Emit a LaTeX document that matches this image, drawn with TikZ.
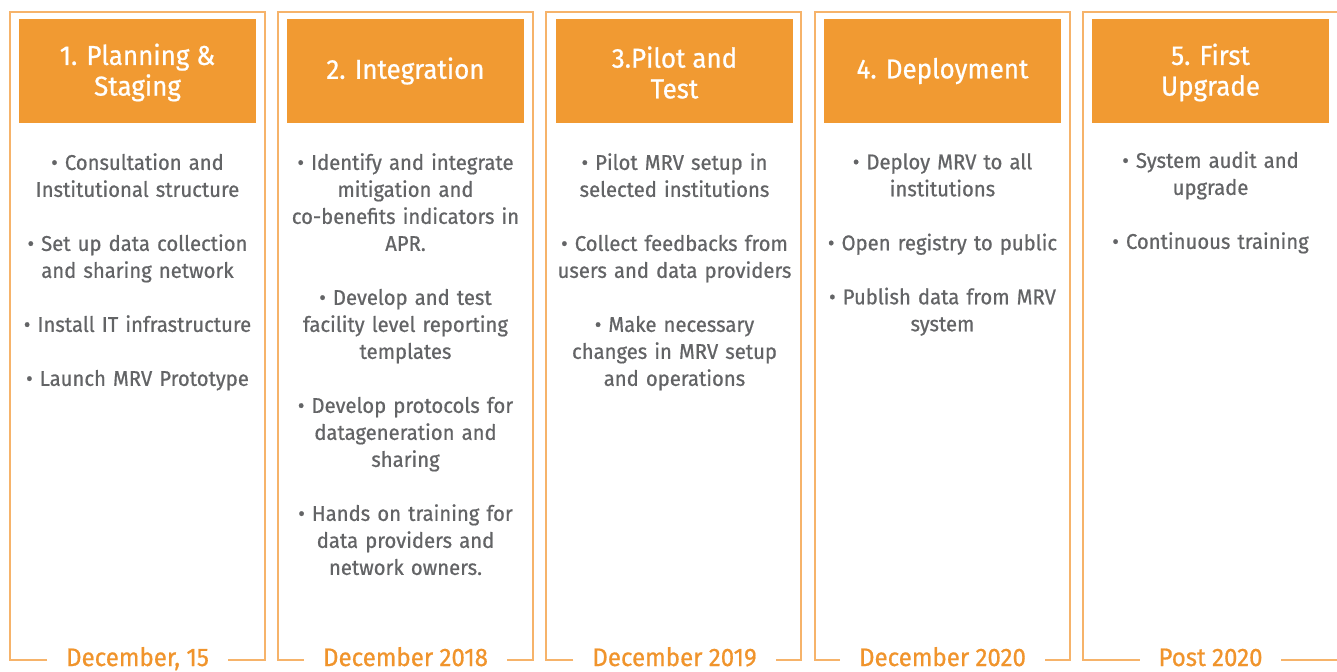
\documentclass[tikz,border=0pt]{standalone}
\usepackage{fontspec}
\setmainfont{Fira Sans}[FakeStretch=0.95, FakeBold=0.7]
\definecolor{hdr}{HTML}{F19A32}
\definecolor{frm}{HTML}{F6B36A}
\definecolor{txt}{HTML}{636466}
\definecolor{dte}{HTML}{F0942C}
\tikzset{
  hdrbox/.style={fill=hdr, minimum width=237*0.75pt, minimum height=104*0.75pt, inner sep=0pt},
  hdrtext/.style={text=white, inner sep=0pt, align=center, font=\fontsize{20.5}{23}\selectfont},
  bodytext/.style={anchor=north, inner sep=0pt, text=txt, align=center, text width=250*0.75pt,
    font=\fontsize{16}{20.25}\selectfont},
  datetext/.style={anchor=base, text=dte, inner xsep=14pt, inner ysep=0pt, font=\fontsize{19}{22}\selectfont},
  frameline/.style={draw=frm, line width=1.3pt}
}
\begin{document}
\begin{tikzpicture}[x=0.75pt,y=-0.75pt]
\useasboundingbox (0,0) rectangle (1337,671);
% column 1
\node[hdrbox] (h1) at (137.5,71) {};
\node[hdrtext] (h1t) at (137.5,72.5) {1. Planning \&\\Staging};
\node[bodytext] (b1) at (137.5,153) {• Consultation and\\Institutional structure\\[20.25pt]• Set up data collection\\and sharing network\\[20.25pt]• Install IT infrastructure\\[20.25pt]• Launch MRV Prototype};
\node[datetext] (d1) at (137.5,666) {December, 15};
\coordinate (f1bl) at (10,660); \coordinate (f1tr) at (265,12); \coordinate (f1br) at (265,660);
\draw[frameline] (d1.west |- f1bl) -- (f1bl) |- (f1tr) -- (f1br) -- (d1.east |- f1br);
% column 2
\node[hdrbox] (h2) at (405.5,71) {};
\node[hdrtext] (h2t) at (405.5,71) {2. Integration};
\node[bodytext] (b2) at (405.5,153) {• Identify and integrate\\mitigation and\\co-benefits indicators in\\APR.\\[20.25pt]• Develop and test\\facility level reporting\\templates\\[20.25pt]• Develop protocols for\\datageneration and\\sharing\\[20.25pt]• Hands on training for\\data providers and\\network owners.};
\node[datetext] (d2) at (405.5,666) {December 2018};
\coordinate (f2bl) at (278,660); \coordinate (f2tr) at (533,12); \coordinate (f2br) at (533,660);
\draw[frameline] (d2.west |- f2bl) -- (f2bl) |- (f2tr) -- (f2br) -- (d2.east |- f2br);
% column 3
\node[hdrbox] (h3) at (674.5,71) {};
\node[hdrtext] (h3t) at (674.5,72.5) {3.Pilot and\\Test};
\node[bodytext] (b3) at (674.5,153) {• Pilot MRV setup in\\selected institutions\\[20.25pt]• Collect feedbacks from\\users and data providers\\[20.25pt]• Make necessary\\changes in MRV setup\\and operations};
\node[datetext] (d3) at (674.5,666) {December 2019};
\coordinate (f3bl) at (546,660); \coordinate (f3tr) at (801,12); \coordinate (f3br) at (801,660);
\draw[frameline] (d3.west |- f3bl) -- (f3bl) |- (f3tr) -- (f3br) -- (d3.east |- f3br);
% column 4
\node[hdrbox] (h4) at (942.5,71) {};
\node[hdrtext] (h4t) at (942.5,71) {4. Deployment};
\node[bodytext] (b4) at (942.5,153) {• Deploy MRV to all\\institutions\\[20.25pt]• Open registry to public\\[20.25pt]• Publish data from MRV\\system};
\node[datetext] (d4) at (942.5,666) {December 2020};
\coordinate (f4bl) at (815,660); \coordinate (f4tr) at (1070,12); \coordinate (f4br) at (1070,660);
\draw[frameline] (d4.west |- f4bl) -- (f4bl) |- (f4tr) -- (f4br) -- (d4.east |- f4br);
% column 5
\node[hdrbox] (h5) at (1210.5,71) {};
\node[hdrtext] (h5t) at (1210.5,72.5) {5. First\\Upgrade};
\node[bodytext] (b5) at (1210.5,151) {• System audit and\\upgrade\\[20.25pt]• Continuous training};
\node[datetext] (d5) at (1210.5,666) {Post 2020};
\coordinate (f5bl) at (1083,660); \coordinate (f5tr) at (1338,12); \coordinate (f5br) at (1338,660);
\draw[frameline] (d5.west |- f5bl) -- (f5bl) |- (f5tr) -- (f5br) -- (d5.east |- f5br);
\end{tikzpicture}
\end{document}
